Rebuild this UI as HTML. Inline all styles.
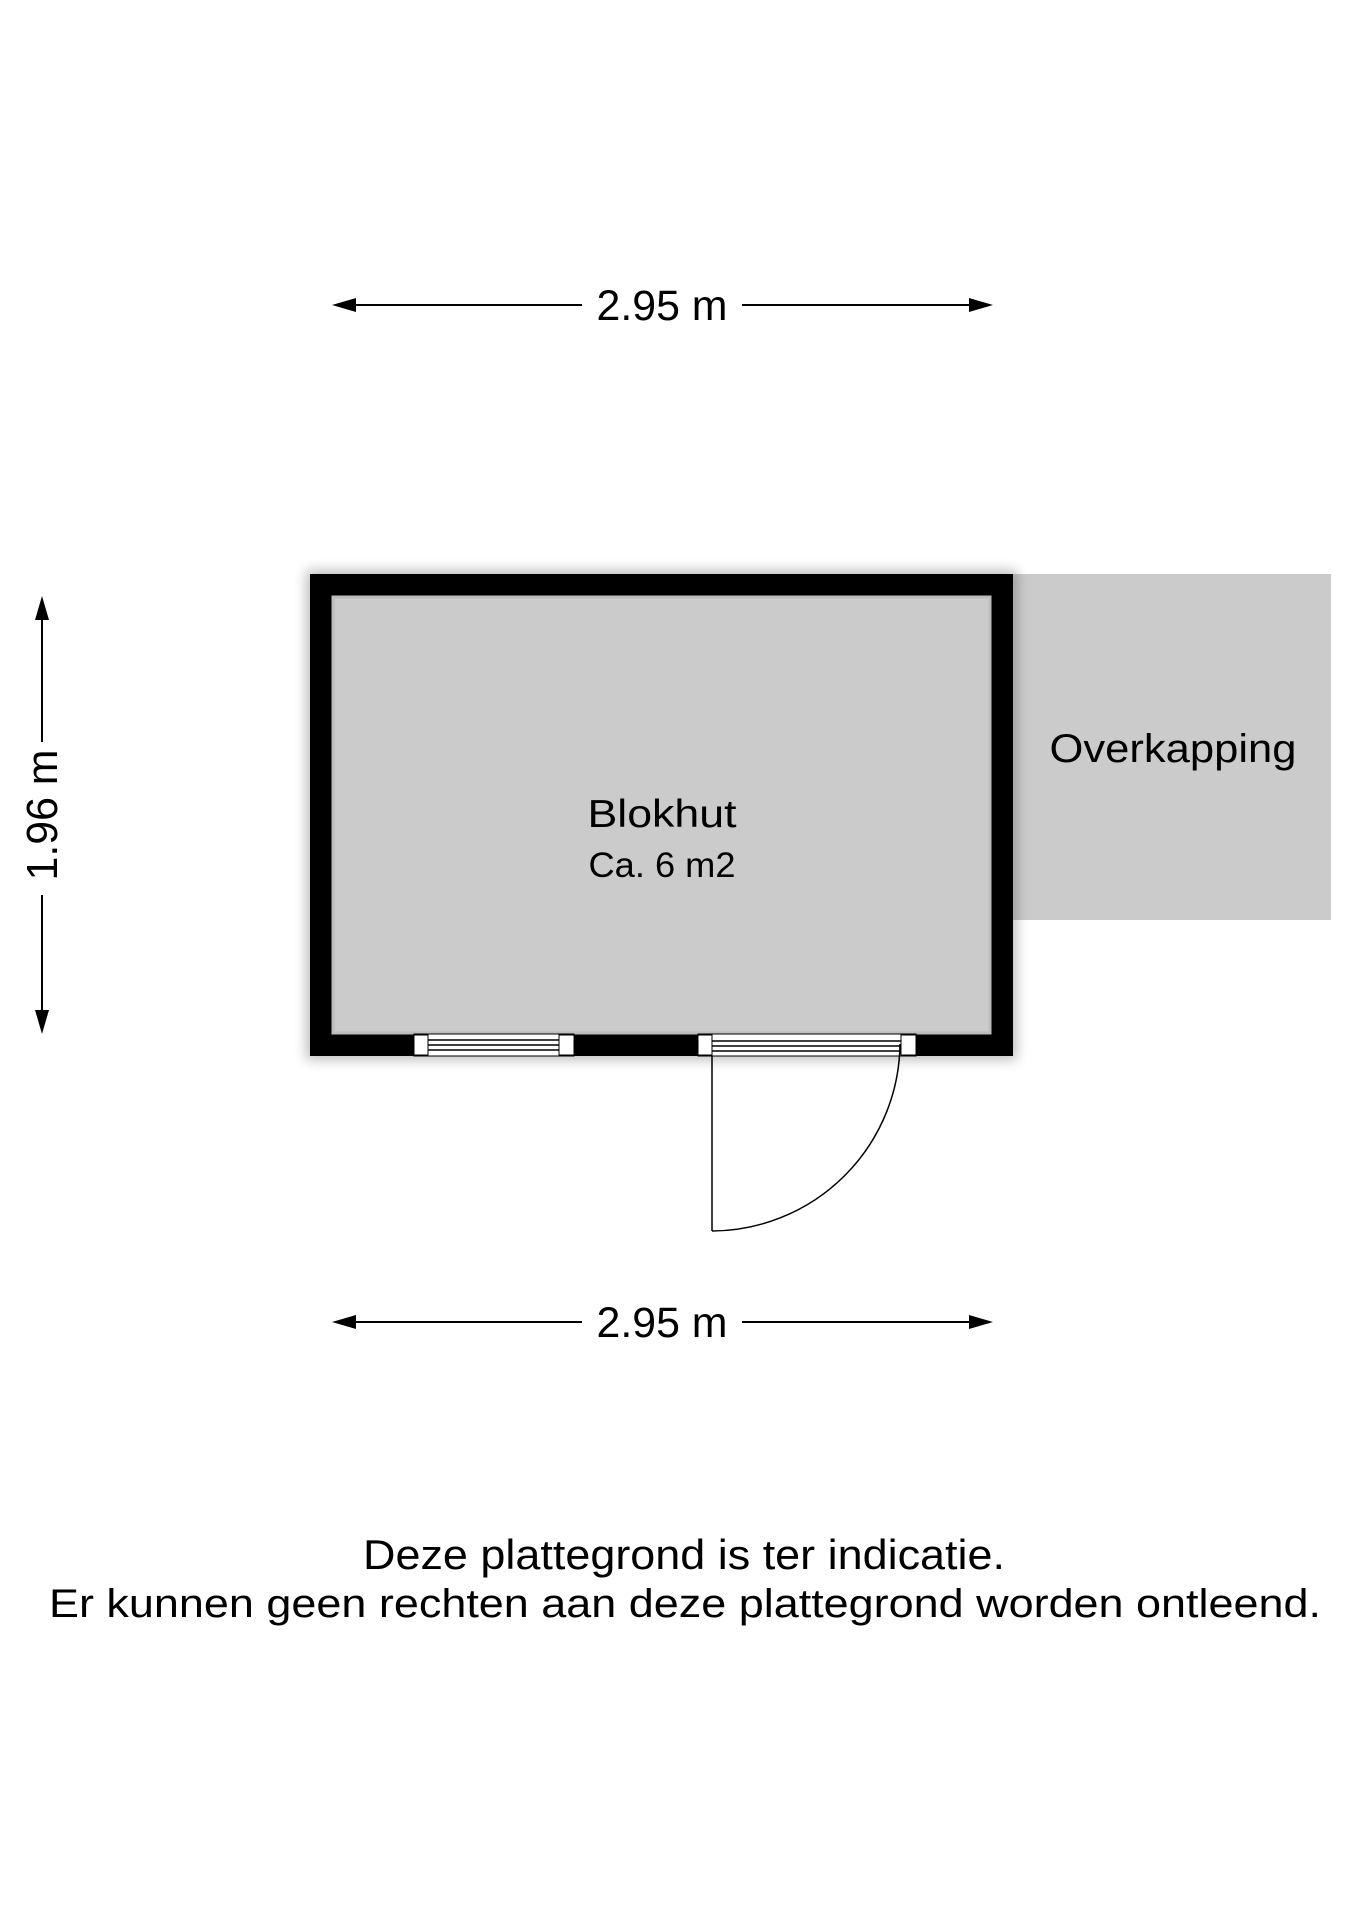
<!DOCTYPE html>
<html><head><meta charset="utf-8"><style>
html,body{margin:0;padding:0;background:#fff}
svg{display:block}
text{font-family:"Liberation Sans",sans-serif;fill:#000}
</style></head><body>
<svg width="1358" height="1920" viewBox="0 0 1358 1920" xmlns="http://www.w3.org/2000/svg">
<defs><filter id="sh" x="-10%" y="-10%" width="120%" height="120%"><feGaussianBlur stdDeviation="6"/></filter></defs>
<!-- top dimension -->
<line x1="340" y1="305" x2="582" y2="305" stroke="#000" stroke-width="2"/>
<line x1="742" y1="305" x2="985" y2="305" stroke="#000" stroke-width="2"/>
<polygon points="332,305 356,298 356,312" fill="#000"/>
<polygon points="993,305 969,298 969,312" fill="#000"/>
<text x="662" y="320" font-size="43" text-anchor="middle" textLength="131" lengthAdjust="spacingAndGlyphs">2.95 m</text>
<!-- left dimension -->
<line x1="42" y1="604" x2="42" y2="742" stroke="#000" stroke-width="2"/>
<line x1="42" y1="895" x2="42" y2="1026" stroke="#000" stroke-width="2"/>
<polygon points="42,596 35,620 49,620" fill="#000"/>
<polygon points="42,1034 35,1010 49,1010" fill="#000"/>
<text x="0" y="0" font-size="44" text-anchor="middle" textLength="131" lengthAdjust="spacingAndGlyphs" transform="translate(57,815) rotate(-90)">1.96 m</text>
<!-- overkapping -->
<rect x="1013" y="574" width="318" height="346" fill="#cbcbcb"/>
<text x="1173" y="762" font-size="40" text-anchor="middle" textLength="247" lengthAdjust="spacingAndGlyphs">Overkapping</text>
<!-- shadow -->
<rect x="306" y="570" width="711" height="490" fill="#000" opacity="0.25" filter="url(#sh)"/>
<!-- wall -->
<rect x="310" y="574" width="703" height="482" fill="#000"/>
<rect x="332" y="596" width="659" height="438" fill="#cbcbcb"/>
<rect x="333" y="597" width="657" height="436" fill="none" stroke="#bdbdbd" stroke-width="3"/>
<text x="662" y="827" font-size="39" text-anchor="middle" textLength="149" lengthAdjust="spacingAndGlyphs">Blokhut</text>
<text x="662" y="877" font-size="35" text-anchor="middle" textLength="147" lengthAdjust="spacingAndGlyphs">Ca. 6 m2</text>
<!-- window -->
<rect x="414" y="1034" width="160" height="22" fill="#fff" stroke="#000" stroke-width="1"/>
<rect x="414" y="1035" width="14" height="20" fill="#fff" stroke="#000" stroke-width="1"/>
<rect x="559" y="1035" width="15" height="20" fill="#fff" stroke="#000" stroke-width="1"/>
<line x1="428" y1="1040" x2="559" y2="1040" stroke="#000" stroke-width="1.5"/>
<line x1="428" y1="1045" x2="559" y2="1045" stroke="#000" stroke-width="1.5"/>
<line x1="428" y1="1050" x2="559" y2="1050" stroke="#000" stroke-width="1.5"/>
<!-- door -->
<rect x="698" y="1034" width="218" height="22" fill="#fff" stroke="#000" stroke-width="1"/>
<rect x="698" y="1035" width="14" height="20" fill="#fff" stroke="#000" stroke-width="1"/>
<rect x="901" y="1035" width="15" height="20" fill="#fff" stroke="#000" stroke-width="1"/>
<line x1="712" y1="1041" x2="901" y2="1041" stroke="#000" stroke-width="1.5"/>
<line x1="712" y1="1046" x2="901" y2="1046" stroke="#000" stroke-width="1.5"/>
<line x1="712" y1="1051" x2="901" y2="1051" stroke="#000" stroke-width="1.5"/>
<line x1="712" y1="1056" x2="712" y2="1231" stroke="#000" stroke-width="1.5"/>
<path d="M712,1231 A189,189 0 0 0 900,1044" fill="none" stroke="#000" stroke-width="1.5"/>
<!-- bottom dimension -->
<line x1="340" y1="1322" x2="582" y2="1322" stroke="#000" stroke-width="2"/>
<line x1="742" y1="1322" x2="985" y2="1322" stroke="#000" stroke-width="2"/>
<polygon points="332,1322 356,1315 356,1329" fill="#000"/>
<polygon points="993,1322 969,1315 969,1329" fill="#000"/>
<text x="662" y="1337" font-size="43" text-anchor="middle" textLength="131" lengthAdjust="spacingAndGlyphs">2.95 m</text>
<!-- footer -->
<text x="684" y="1569" font-size="42" text-anchor="middle" textLength="642" lengthAdjust="spacingAndGlyphs">Deze plattegrond is ter indicatie.</text>
<text x="685" y="1617" font-size="40" text-anchor="middle" textLength="1272" lengthAdjust="spacingAndGlyphs">Er kunnen geen rechten aan deze plattegrond worden ontleend.</text>
</svg>
</body></html>
